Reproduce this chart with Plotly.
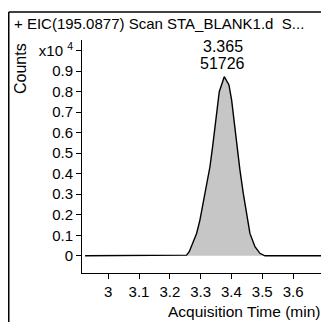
import plotly.graph_objects as go

# Acquisition time (min) and counts (EIC 195.0877)
times = [2.925, 3.20, 3.2544, 3.263, 3.276, 3.2869, 3.2977, 3.3085, 3.3194, 3.3302,
         3.3389, 3.3464, 3.354, 3.3605, 3.3767, 3.3919, 3.4005, 3.408, 3.4168,
         3.4276, 3.4384, 3.4492, 3.46, 3.4763, 3.4925, 3.5088, 3.75]
counts = [0, 0, 30, 200, 680, 1090, 1740, 2550, 3370, 4340,
          5320, 6290, 7430, 8000, 8730, 8330, 7600, 6620, 5480,
          4180, 3040, 2070, 1090, 440, 120, 0, 0]

scale = 1e4
y_vals = [c / scale for c in counts]

x_tickvals = [3.0, 3.1, 3.2, 3.3, 3.4, 3.5, 3.6]
x_ticktext = ["3", "3.1", "3.2", "3.3", "3.4", "3.5", "3.6"]
x_minor_vals = [3.7]
y_tickvals = [0, 0.1, 0.2, 0.3, 0.4, 0.5, 0.6, 0.7, 0.8, 0.9, 1.0]
y_ticktext = ["0", "0.1", "0.2", "0.3", "0.4", "0.5", "0.6", "0.7", "0.8", "0.9", "x10 <sup>4</sup>"]

title_text = "+ EIC(195.0877) Scan STA_BLANK1.d  S..."
peak_rt = "3.365"
peak_area = "51726"

font = "Liberation Sans, Arial, sans-serif"
fs = 15

fig = go.Figure()
fig.add_trace(go.Scatter(
    x=times, y=y_vals, mode="lines",
    line=dict(color="black", width=1.4),
    fill="tozeroy", fillcolor="#c6c6c6",
    hoverinfo="skip", showlegend=False,
))

fig.update_layout(
    width=321, height=314,
    margin=dict(l=74, r=0, t=32, b=49, autoexpand=False),
    paper_bgcolor="white", plot_bgcolor="white",
    font=dict(family=font, size=fs, color="black"),
    xaxis=dict(range=[2.915, 3.7166], tickvals=x_tickvals, ticktext=x_ticktext,
               showline=True, linecolor="black", linewidth=1, ticks="outside",
               ticklen=5, tickcolor="black", showgrid=False, zeroline=False,
               automargin=False, tickfont=dict(size=15),
               minor=dict(tickvals=x_minor_vals, ticks="outside", ticklen=5,
                          tickcolor="black", showgrid=False)),
    yaxis=dict(range=[-0.084, 1.052], tickvals=y_tickvals, ticktext=y_ticktext,
               showline=True, linecolor="black", linewidth=1, ticks="outside",
               ticklen=5, tickcolor="black", showgrid=False, zeroline=False,
               automargin=False, tickfont=dict(size=15)),
    shapes=[
        dict(type="line", xref="paper", yref="paper", x0=-0.2965, x1=1.2, y0=1.1202, y1=1.1202,
             line=dict(color="black", width=1.5)),
        dict(type="line", xref="paper", yref="paper", x0=-0.2965, x1=-0.2965, y0=1.1202, y1=-0.3,
             line=dict(color="black", width=1.5)),
    ],
    annotations=[
        dict(text=title_text, xref="paper", yref="paper", x=-0.2834, y=1.0687,
             xanchor="left", yanchor="middle", showarrow=False, font=dict(size=15)),
        dict(text="Counts", xref="paper", yref="paper", x=-0.251, y=0.8755, textangle=-90,
             xanchor="center", yanchor="middle", showarrow=False, font=dict(size=16)),
        dict(text=peak_rt, x=3.371, y=0.971, xref="x", yref="paper", yanchor="middle",
             xanchor="center", showarrow=False, font=dict(size=16)),
        dict(text=peak_area, x=3.371, y=0.900, xref="x", yref="paper", yanchor="middle",
             xanchor="center", showarrow=False, font=dict(size=16)),
        dict(text="Acquisition Time (min)", xref="paper", yref="paper", x=0.972, y=-0.166,
             xanchor="right", yanchor="middle", showarrow=False, font=dict(size=15.5)),
    ],
)

fig.write_html("out.html")
